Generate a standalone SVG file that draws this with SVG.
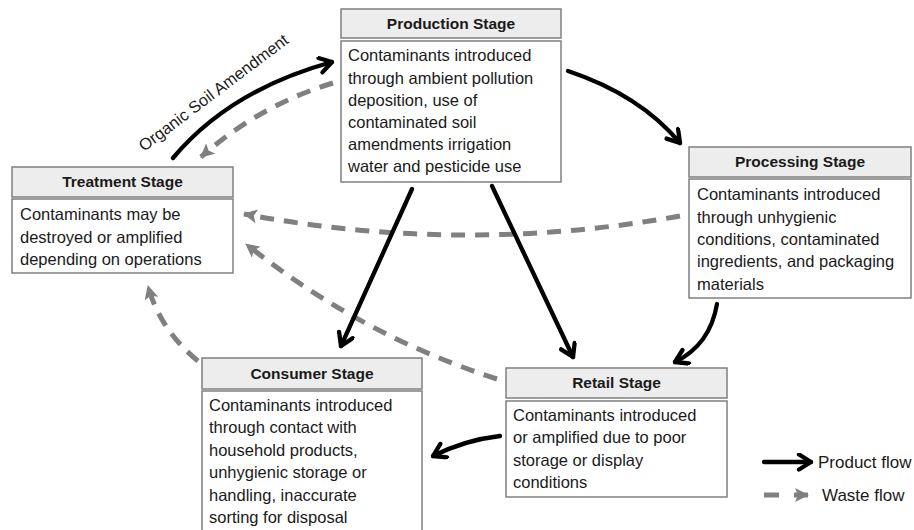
<svg xmlns="http://www.w3.org/2000/svg" width="914" height="530" viewBox="0 0 914 530">
<style>
.hdr{fill:#ededed;stroke:#7f7f7f;stroke-width:1.5}
.body{fill:#fff;stroke:#7f7f7f;stroke-width:1.5}
.ht{font-family:"Liberation Sans",Arial,sans-serif;font-weight:bold;font-size:15.5px;fill:#1a1a1a;text-anchor:middle}
.bt{font-family:"Liberation Sans",Arial,sans-serif;font-size:16.5px;fill:#1a1a1a}
.lg{font-family:"Liberation Sans",Arial,sans-serif;font-size:17px;fill:#1a1a1a}
.prod{fill:none;stroke:#000;stroke-width:4.3;stroke-linecap:round;marker-end:url(#ah)}
.waste{fill:none;stroke:#808080;stroke-width:5;stroke-dasharray:14 10;marker-end:url(#gh)}
</style>
<defs>
<marker id="ah" markerUnits="userSpaceOnUse" markerWidth="22" markerHeight="22" refX="15" refY="9" orient="auto">
<path d="M3,1.5 L15,9 L3,16.5" fill="none" stroke="#000" stroke-width="4.3" stroke-linecap="round" stroke-linejoin="round"/>
</marker>
<marker id="gh" markerUnits="userSpaceOnUse" markerWidth="20" markerHeight="20" refX="13" refY="7" orient="auto">
<path d="M0,0 L14,7 L0,14 L3,7 z" fill="#808080"/>
</marker>
</defs>
<rect width="914" height="530" fill="#fff"/>

<g id="connectors">
<path class="prod" d="M173,158 Q230,90 332,62"/>
<path class="waste" d="M333,83 Q260,105 201,157"/>
<path class="prod" d="M568,71 Q640,95 680,143"/>
<path class="waste" d="M680,216 Q463,255 244,214"/>
<path class="waste" d="M497,379 Q360,335 246,244"/>
<path class="prod" d="M412,189 L341,346"/>
<path class="prod" d="M492,186 L573,357"/>
<path class="prod" d="M717,304 Q710,345 675,362"/>
<path class="prod" d="M500,436 Q465,440 433,456"/>
<path class="waste" d="M198,361 Q160,330 148,286"/>
<text class="bt" style="font-size:16.5px" transform="translate(144,152) rotate(-37)">Organic Soil Amendment</text>
</g>

<g id="production">
<rect class="hdr" x="341" y="9" width="220" height="29"/>
<text class="ht" x="451" y="29">Production Stage</text>
<rect class="body" x="341" y="41" width="220" height="141"/>
<text class="bt" x="348"><tspan x="348" y="61">Contaminants introduced</tspan><tspan x="348" y="84">through ambient pollution</tspan><tspan x="348" y="106">deposition, use of</tspan><tspan x="348" y="128">contaminated soil</tspan><tspan x="348" y="150">amendments irrigation</tspan><tspan x="348" y="172">water and pesticide use</tspan></text>
</g>

<g id="treatment">
<rect class="hdr" x="12" y="167" width="221" height="30"/>
<text class="ht" x="122.5" y="187">Treatment Stage</text>
<rect class="body" x="12" y="199" width="221" height="74"/>
<text class="bt"><tspan x="20" y="220">Contaminants may be</tspan><tspan x="20" y="243">destroyed or amplified</tspan><tspan x="20" y="265">depending on operations</tspan></text>
</g>

<g id="processing">
<rect class="hdr" x="689" y="147" width="222" height="30"/>
<text class="ht" x="800" y="167">Processing Stage</text>
<rect class="body" x="689" y="179" width="222" height="119"/>
<text class="bt"><tspan x="697" y="200">Contaminants introduced</tspan><tspan x="697" y="223">through unhygienic</tspan><tspan x="697" y="245">conditions, contaminated</tspan><tspan x="697" y="267">ingredients, and packaging</tspan><tspan x="697" y="290">materials</tspan></text>
</g>

<g id="consumer">
<rect class="hdr" x="202" y="358" width="220" height="31"/>
<text class="ht" x="312" y="379">Consumer Stage</text>
<rect class="body" x="202" y="391" width="220" height="145"/>
<text class="bt"><tspan x="209" y="411">Contaminants introduced</tspan><tspan x="209" y="433">through contact with</tspan><tspan x="209" y="456">household products,</tspan><tspan x="209" y="478">unhygienic storage or</tspan><tspan x="209" y="501">handling, inaccurate</tspan><tspan x="209" y="523">sorting for disposal</tspan></text>
</g>

<g id="retail">
<rect class="hdr" x="506" y="368" width="221" height="30"/>
<text class="ht" x="616.5" y="388">Retail Stage</text>
<rect class="body" x="506" y="401" width="221" height="96"/>
<text class="bt"><tspan x="513" y="421">Contaminants introduced</tspan><tspan x="513" y="443">or amplified due to poor</tspan><tspan x="513" y="466">storage or display</tspan><tspan x="513" y="488">conditions</tspan></text>
</g>

<g id="legend">
<path class="prod" d="M764,462 L811,462"/>
<text class="lg" x="818" y="468">Product flow</text>
<path d="M764,495 L779,495" stroke="#808080" stroke-width="5" fill="none"/>
<path d="M794,495 L808,495" stroke="#808080" stroke-width="5" fill="none" marker-end="url(#gh)"/>
<text class="lg" x="822" y="501">Waste flow</text>
</g>
</svg>
